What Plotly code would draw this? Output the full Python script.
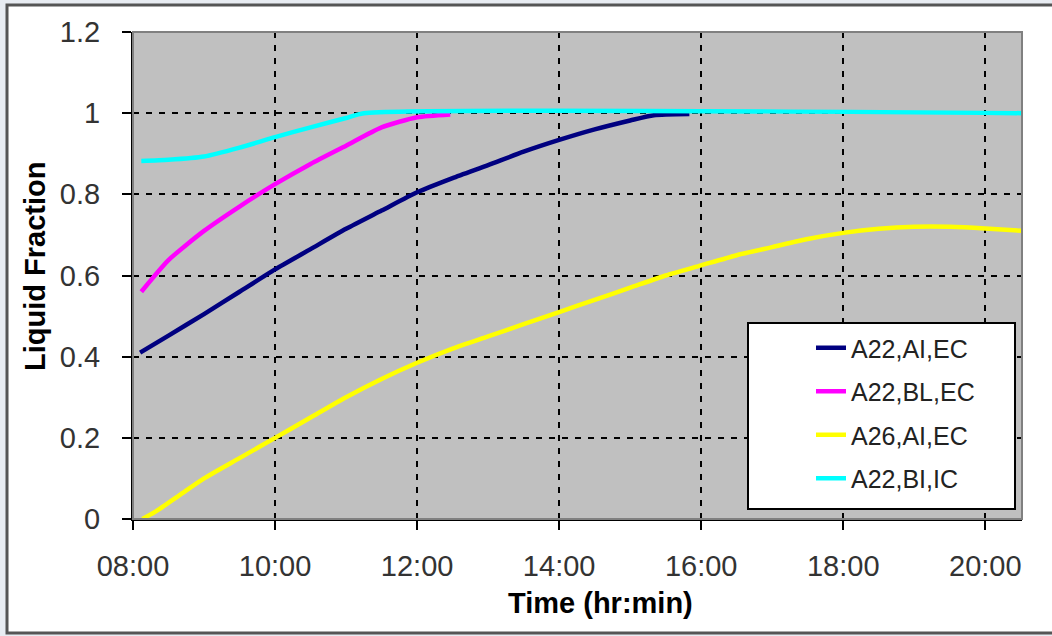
import plotly.graph_objects as go

DAY = "2000-01-01 "

# A22,AI,EC (navy)
t_navy = ["08:06", "08:30", "09:00", "09:30", "10:00", "10:30", "11:00", "11:30", "12:00",
          "12:30", "13:00", "13:30", "14:00", "14:30", "15:00", "15:20", "15:50"]
v_navy = [0.41, 0.452, 0.505, 0.56, 0.615, 0.665, 0.715, 0.76, 0.805,
          0.84, 0.872, 0.905, 0.934, 0.96, 0.982, 0.995, 0.998]

# A22,BL,EC (magenta)
t_mag = ["08:07", "08:30", "09:00", "09:30", "10:00", "10:30", "11:00", "11:30", "12:00", "12:28"]
v_mag = [0.56, 0.638, 0.71, 0.77, 0.825, 0.875, 0.92, 0.965, 0.99, 0.997]

# A26,AI,EC (yellow)
t_yel = ["08:08", "08:20", "08:40", "09:00", "09:30", "10:00", "10:30", "11:00", "11:30", "12:00",
         "12:30", "13:00", "13:30", "14:00", "14:30", "15:00", "15:30", "16:00", "16:30", "17:00",
         "17:30", "18:00", "18:30", "19:00", "19:30", "20:00", "20:31"]
v_yel = [0.0, 0.02, 0.06, 0.10, 0.15, 0.20, 0.25, 0.30, 0.345, 0.385,
         0.42, 0.45, 0.48, 0.51, 0.54, 0.57, 0.60, 0.625, 0.65, 0.67,
         0.69, 0.705, 0.715, 0.72, 0.72, 0.716, 0.71]

# A22,BI,IC (cyan)
t_cyan = ["08:07", "08:30", "09:00", "09:30", "10:00", "10:30", "11:00", "11:15", "20:31"]
v_cyan = [0.882, 0.885, 0.893, 0.915, 0.941, 0.965, 0.988, 1.0, 1.0]

series_names = ["A22,AI,EC", "A22,BL,EC", "A26,AI,EC", "A22,BI,IC"]
series_colors = ["#000080", "#FF00FF", "#FFFF00", "#00FFFF"]
series_times = [t_navy, t_mag, t_yel, t_cyan]
series_vals = [v_navy, v_mag, v_yel, v_cyan]

x_tick_labels = ["08:00", "10:00", "12:00", "14:00", "16:00", "18:00", "20:00"]
y_ticks = [0, 0.2, 0.4, 0.6, 0.8, 1.0, 1.2]
y_tick_labels = ["0", "0.2", "0.4", "0.6", "0.8", "1", "1.2"]

FONT = "Liberation Sans, Arial, sans-serif"

fig = go.Figure()
for i, (name, col, ts, vs) in enumerate(zip(series_names, series_colors, series_times, series_vals)):
    fig.add_trace(go.Scatter(
        x=[DAY + t for t in ts], y=vs, mode="lines", name=name,
        line=dict(color=col, width=4.5, shape="spline", smoothing=0.6),
        legendgroup=f"g{i}",
    ))

W, H = 1052, 636
L, R, T, B = 133, 30, 32, 117
pw, ph = W - L - R, H - T - B


def px_x(p):
    return (p - L) / pw


def px_y(p):
    return (H - B - p) / ph


shapes = [
    # white frame
    dict(type="rect", xref="paper", yref="paper", layer="below",
         x0=px_x(7), x1=px_x(1060), y0=px_y(633), y1=px_y(5),
         fillcolor="white", line=dict(color="#555555", width=3)),
    # gray plot area
    dict(type="rect", xref="paper", yref="paper", layer="below",
         x0=0, x1=1, y0=0, y1=1, fillcolor="#C0C0C0", line=dict(width=0)),
    # plot border (top/right gray)
    dict(type="rect", xref="paper", yref="paper", layer="above",
         x0=0, x1=1, y0=0, y1=1, line=dict(color="#808080", width=2)),
    # legend box
    dict(type="rect", xref="paper", yref="paper", layer="above",
         x0=px_x(748), x1=px_x(1015), y0=px_y(509), y1=px_y(323),
         fillcolor="white", line=dict(color="black", width=2)),
]

fig.update_layout(
    width=W, height=H,
    margin=dict(l=L, r=R, t=T, b=B),
    paper_bgcolor="#E8ECF2",
    plot_bgcolor="#C0C0C0",
    shapes=shapes,
    showlegend=True,
    legend=dict(
        x=px_x(811), y=px_y(325), xanchor="left", yanchor="top",
        bgcolor="rgba(0,0,0,0)", borderwidth=0,
        font=dict(family=FONT, size=25, color="#222222"),
        tracegroupgap=8,
    ),
    annotations=[
        dict(text="Time (hr:min)", xref="paper", yref="paper", x=px_x(600), y=px_y(603),
             showarrow=False, xanchor="center", yanchor="middle",
             font=dict(family=FONT, size=29, color="black", weight="bold")),
        dict(text="Liquid Fraction", xref="paper", yref="paper", x=px_x(35), y=px_y(267),
             showarrow=False, xanchor="center", yanchor="middle", textangle=-90,
             font=dict(family=FONT, size=29, color="black", weight="bold")),
    ],
)

fig.update_xaxes(
    type="date",
    range=[DAY + "08:00", DAY + "20:31"],
    tickvals=[DAY + t for t in x_tick_labels],
    ticktext=x_tick_labels,
    ticks="outside", ticklen=9, tickwidth=2, tickcolor="black",
    showline=True, linecolor="black", linewidth=2,
    showgrid=True, gridcolor="black", gridwidth=2, griddash="6px,7px",
    zeroline=False,
    tickfont=dict(family=FONT, size=29, color="#333333"),
    ticklabelstandoff=11,
)
fig.update_yaxes(
    range=[0, 1.2],
    tickvals=y_ticks, ticktext=[s + "\u00a0\u00a0" for s in y_tick_labels],
    ticks="outside", ticklen=9, tickwidth=2, tickcolor="black",
    showline=True, linecolor="black", linewidth=2,
    showgrid=True, gridcolor="black", gridwidth=2, griddash="6px,7px",
    zeroline=False,
    tickfont=dict(family=FONT, size=29, color="#333333"),
)

fig.write_html("out.html", config={"displayModeBar": False},
               post_script="document.body.style.margin='0px';")
